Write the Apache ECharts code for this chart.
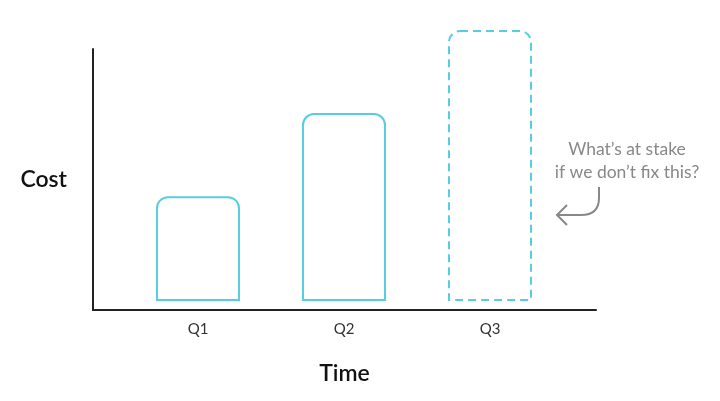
<!DOCTYPE html>
<html><head><meta charset="utf-8">
<script src="https://cdn.jsdelivr.net/npm/echarts@6/dist/echarts.min.js"></script>
<style>html,body{margin:0;padding:0;background:#fff}#c{width:720px;height:401px}</style>
</head><body><div id="c"></div>
<script>
const quarters = ['Q1', 'Q2', 'Q3'];
const positions = [1, 2, 3];
const cost = [38.7, 69.4, 100];
const projected = [false, false, true];
const annotation = ['What\u2019s at stake', 'if we don\u2019t fix this?'];

const chart = echarts.init(document.getElementById('c'));
const cyan = '#58cde2';
const data = cost.map((v, i) => ({
  value: [positions[i], v],
  itemStyle: {
    color: '#fff',
    borderColor: cyan,
    borderWidth: 2,
    borderType: projected[i] ? [8, 5] : 'solid',
    borderRadius: [11, 11, 0, 0]
  }
}));
const grey = '#888';
chart.setOption({
  animation: false,
  grid: { left: 93, right: 124, top: 49, bottom: 91 },
  xAxis: {
    type: 'value', min: 0.281, max: 3.726,
    name: 'Time', nameLocation: 'middle', nameGap: 52,
    nameTextStyle: { fontFamily: 'Lato', fontSize: 23, fontWeight: 600, color: '#111' },
    axisLine: { show: true, onZero: false, lineStyle: { color: '#222', width: 2 } },
    axisTick: { show: false },
    splitLine: { show: false },
    axisLabel: {
      customValues: positions, margin: 12,
      formatter: v => quarters[positions.indexOf(v)] || '',
      fontFamily: 'Lato', fontSize: 15, color: '#333'
    }
  },
  yAxis: {
    type: 'value', min: -3.32, max: 93.0,
    name: 'Cost', nameLocation: 'middle', nameRotate: 0, nameGap: 26,
    nameTextStyle: { fontFamily: 'Lato', fontSize: 23, fontWeight: 600, color: '#111' },
    axisLine: { show: true, onZero: false, lineStyle: { color: '#222', width: 2 } },
    axisTick: { show: false }, axisLabel: { show: false }, splitLine: { show: false }
  },
  series: [{
    type: 'bar', barWidth: 84, clip: false, data: data
  }],
  graphic: [
    {
      type: 'text', x: 627, y: 138,
      style: {
        text: annotation.join('\n'), fill: grey, fontFamily: 'Lato', fontSize: 17.5,
        lineHeight: 23, align: 'center', verticalAlign: 'top'
      }
    },
    {
      type: 'polyline',
      shape: { points: [[599, 187], [599, 198]] },
      style: { stroke: grey, lineWidth: 2, fill: null }
    },
    {
      type: 'bezierCurve',
      shape: { x1: 599, y1: 198, cpx1: 599, cpy1: 215, x2: 581, y2: 215 },
      style: { stroke: grey, lineWidth: 2, fill: null }
    },
    {
      type: 'polyline',
      shape: { points: [[581, 215], [557, 215]] },
      style: { stroke: grey, lineWidth: 2, fill: null }
    },
    {
      type: 'polyline',
      shape: { points: [[567, 205], [557, 215], [567, 225]] },
      style: { stroke: grey, lineWidth: 2, fill: null }
    }
  ]
});
</script></body></html>
